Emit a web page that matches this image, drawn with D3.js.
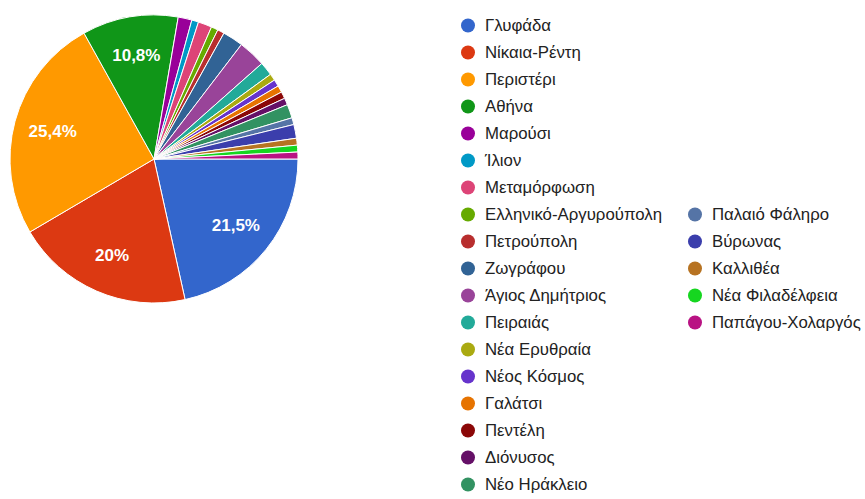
<!DOCTYPE html>
<html>
<head>
<meta charset="utf-8">
<script src="https://cdn.jsdelivr.net/npm/d3@7"></script>
<style>
  html, body { margin: 0; padding: 0; background: #ffffff; }
  svg { display: block; }
</style>
</head>
<body>
<svg id="chart" width="865" height="499"></svg>
<script>
const categories = [
  "Γλυφάδα", "Νίκαια-Ρέντη", "Περιστέρι", "Αθήνα", "Μαρούσι", "Ίλιον",
  "Μεταμόρφωση", "Ελληνικό-Αργυρούπολη", "Πετρούπολη", "Ζωγράφου",
  "Άγιος Δημήτριος", "Πειραιάς", "Νέα Ερυθραία", "Νέος Κόσμος", "Γαλάτσι",
  "Πεντέλη", "Διόνυσος", "Νέο Ηράκλειο", "Παλαιό Φάληρο", "Βύρωνας",
  "Καλλιθέα", "Νέα Φιλαδέλφεια", "Παπάγου-Χολαργός"
];
const values = [28, 26, 33, 14, 2, 1, 2, 1, 1, 3, 4, 2, 1, 1, 1, 1, 1, 2, 1, 2, 1, 1, 1];
const colors = [
  "#3366cc", "#dc3912", "#ff9900", "#109618", "#990099", "#0099c6",
  "#dd4477", "#66aa00", "#b82e2e", "#316395", "#994499", "#22aa99",
  "#aaaa11", "#6633cc", "#e67300", "#8b0707", "#651067", "#329262",
  "#5574a6", "#3b3eac", "#b77322", "#16d620", "#b91383"
];

const data = categories.map((c, i) => ({ name: c, value: values[i], color: colors[i] }));
const total = d3.sum(values);

const svg = d3.select("#chart");
const cx = 154, cy = 159, R = 144;

const pie = d3.pie().value(d => d.value).sort(null)
  .startAngle(Math.PI / 2).endAngle(Math.PI / 2 + 2 * Math.PI);
const arcs = pie(data);
const arc = d3.arc().innerRadius(0).outerRadius(R);
const labelArc = d3.arc().innerRadius(105).outerRadius(105);

const g = svg.append("g").attr("transform", `translate(${cx},${cy})`);
g.selectAll("path.slice").data(arcs).enter().append("path")
  .attr("class", "slice")
  .attr("d", arc)
  .attr("fill", d => d.data.color)
  .attr("stroke", "#ffffff")
  .attr("stroke-width", 1);

const fmt = v => {
  const p = Math.round(v / total * 1000) / 10;
  return String(p).replace(".", ",") + "%";
};

g.selectAll("text.lbl").data(arcs.filter(d => d.data.value / total > 0.05)).enter()
  .append("text")
  .attr("class", "lbl")
  .attr("transform", d => `translate(${labelArc.centroid(d)})`)
  .attr("text-anchor", "middle")
  .attr("dy", "0.35em")
  .attr("fill", "#ffffff")
  .attr("font-family", "Liberation Sans, Arial, sans-serif")
  .attr("font-weight", "bold")
  .attr("font-size", 17)
  .text(d => fmt(d.data.value));

// Legend: two columns
const rowH = 27, firstY = 25.5;
const col1 = 18;
const legendPos = (i) => i < col1
  ? { x: 468, y: firstY + i * rowH }
  : { x: 695, y: firstY + (i - col1 + 7) * rowH };

const lg = svg.append("g");
const items = lg.selectAll("g.item").data(data).enter().append("g")
  .attr("class", "item")
  .attr("transform", (d, i) => { const p = legendPos(i); return `translate(${p.x},${p.y})`; });
items.append("circle").attr("r", 7).attr("fill", d => d.color);
items.append("text")
  .attr("x", 17)
  .attr("dy", "0.35em")
  .attr("fill", "#222222")
  .attr("font-family", "Liberation Sans, Arial, sans-serif")
  .attr("font-size", 16.8)
  .text(d => d.name);
</script>
</body>
</html>
